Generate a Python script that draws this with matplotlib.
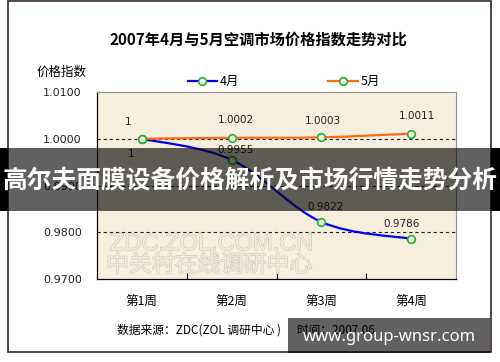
import matplotlib
matplotlib.use("Agg")
import matplotlib.pyplot as plt
import numpy as np
from matplotlib.path import Path
from matplotlib.patches import PathPatch, Rectangle
from matplotlib.lines import Line2D
import matplotlib.patheffects as pe

plt.rcParams['font.family'] = ['Noto Sans CJK SC', 'DejaVu Sans']

categories = ['第1周', '第2周', '第3周', '第4周']
april = [1.0, 0.9955, 0.9822, 0.9786]
may = [1.0, 1.0002, 1.0003, 1.0011]
april_labels = ['1', '0.9955', '0.9822', '0.9786']
may_labels = ['1', '1.0002', '1.0003', '1.0011']
yticks = [0.97, 0.98, 0.99, 1.00, 1.01]
ytick_labels = ['0.9700', '0.9800', '0.9900', '1.0000', '1.0100']
series_names = ['4月', '5月']
title = '2007年4月与5月空调市场价格指数走势对比'
ylabel = '价格指数'
source = '数据来源：ZDC(ZOL 调研中心 )      时间：2007.06'
banner = '高尔夫面膜设备价格解析及市场行情走势分析'
site = 'www.group-wnsr.com'

W, H = 500, 362
fig = plt.figure(figsize=(W / 100, H / 100), dpi=100)
fig.patch.set_facecolor('white')

def fx(px):
    return px / W

def fy(py):
    return 1 - py / H

# outer border
fig.add_artist(Rectangle((fx(8), fy(352)), fx(491) - fx(8), fy(1) - fy(352),
                         transform=fig.transFigure, fill=False,
                         edgecolor='#3b2626', linewidth=1.2, zorder=1))

ax = fig.add_axes([fx(97), fy(279), fx(456) - fx(97), fy(92) - fy(279)])
ax.set_facecolor('#f7efdd')
ax.set_xlim(-0.5, 3.5)
ax.set_ylim(0.97, 1.01)

for s in ['top', 'right']:
    ax.spines[s].set_color('#909090')
    ax.spines[s].set_linewidth(0.8)
for s in ['left', 'bottom']:
    ax.spines[s].set_color('#000000')
    ax.spines[s].set_linewidth(0.9)

ax.set_yticks(yticks)
ax.set_yticklabels(ytick_labels, fontsize=8, family='DejaVu Sans', color='#222222')
ax.tick_params(axis='y', length=0, pad=11)
x = np.arange(len(categories))
ax.set_xticks(x)
ax.set_xticklabels(categories, fontsize=9)
ax.tick_params(axis='x', which='major', length=0, pad=12)
ax.set_xticks([0.5, 1.5, 2.5], minor=True)
ax.tick_params(axis='x', which='minor', direction='in', length=4, width=0.8, color='#000000')

for yv in yticks[1:-1]:
    ax.axhline(yv, color='#222222', linestyle=(0, (3, 2.5)), linewidth=0.8, zorder=1)

# watermark
wm_fx = [pe.Stroke(linewidth=0.8, foreground='#cdc5b5'), pe.Normal()]
fig.text(fx(110), fy(244), 'ZDC.ZOL.COM.CN', fontsize=17, family='Liberation Sans',
         color='#f3ecdc', ha='left', va='center', path_effects=wm_fx, zorder=2)
fig.text(fx(106), fy(265), '中关村在线调研中心', fontsize=16.5, family='Noto Sans CJK SC',
         color='#f3ecdc', ha='left', va='center', path_effects=wm_fx, zorder=2)

def smooth_path(xs, ys):
    pts = np.column_stack([xs, ys]).astype(float)
    n = len(pts)
    verts = [pts[0]]
    codes = [Path.MOVETO]
    for i in range(n - 1):
        p0 = pts[i - 1] if i > 0 else pts[i]
        p1 = pts[i]
        p2 = pts[i + 1]
        p3 = pts[i + 2] if i + 2 < n else pts[i + 1]
        c1 = p1 + (p2 - p0) / 6.0
        c2 = p2 - (p3 - p1) / 6.0
        verts += [c1, c2, p2]
        codes += [Path.CURVE4] * 3
    return Path(verts, codes)

for vals, col in [(april, '#0000ee'), (may, '#ff6a10')]:
    ax.add_patch(PathPatch(smooth_path(x, vals), facecolor='none', edgecolor=col,
                           linewidth=1.6, zorder=3))
    ax.plot(x, vals, linestyle='none', marker='o', markersize=5.5,
            markerfacecolor='#eaffe6', markeredgecolor='#2fa82f', markeredgewidth=1.2, zorder=4)

may_off = [(-10, 12), (3, 13), (1, 12), (4, 13)]
apr_off = [(-8, -11), (3, 7), (3, 11), (-7, 11)]
for xi, v, lab, off in zip(x, may, may_labels, may_off):
    ax.annotate(lab, (xi, v), xytext=off, textcoords='offset points', ha='center',
                va='center', fontsize=7.5, family='DejaVu Sans', color='#222222', zorder=5)
for xi, v, lab, off in zip(x, april, april_labels, apr_off):
    ax.annotate(lab, (xi, v), xytext=off, textcoords='offset points', ha='center',
                va='center', fontsize=7.5, family='DejaVu Sans', color='#222222', zorder=5)

# title, y label, legend, source
fig.text(fx(258), fy(40), title, fontsize=11, fontweight='bold', ha='center', va='center')
fig.text(fx(62), fy(72), ylabel, fontsize=9, ha='center', va='center')
leg = [(188, 217, 202, 220, '#0000ee', series_names[0]),
       (328, 358, 343, 361, '#ff6a10', series_names[1])]
for x0, x1, xm, xt, col, name in leg:
    fig.add_artist(Line2D([fx(x0), fx(x1)], [fy(81), fy(81)], transform=fig.transFigure,
                          color=col, linewidth=1.6))
    fig.add_artist(Line2D([fx(xm)], [fy(81)], transform=fig.transFigure, marker='o',
                          markersize=5.5, markerfacecolor='#eaffe6', markeredgecolor='#2fa82f',
                          markeredgewidth=1.2, linestyle='none'))
    fig.text(fx(xt), fy(81), name, fontsize=9, ha='left', va='center')
fig.text(fx(117), fy(330), source, fontsize=8.5, ha='left', va='center')

# overlay banners
fig.add_artist(Rectangle((0, fy(211)), fx(8), fy(148) - fy(211), transform=fig.transFigure,
                         facecolor='black', edgecolor='none', zorder=10))
fig.add_artist(Rectangle((fx(491), fy(211)), 1 - fx(491), fy(148) - fy(211),
                         transform=fig.transFigure,
                         facecolor='black', edgecolor='none', zorder=10))
fig.add_artist(Rectangle((fx(8), fy(211)), fx(491) - fx(8), fy(148) - fy(211),
                         transform=fig.transFigure, facecolor='black', edgecolor='none',
                         alpha=0.62, zorder=11))
fig.text(0.5, fy(181), banner, fontsize=17.8, fontweight='bold', color='white',
         ha='center', va='center', zorder=12)
fig.add_artist(Rectangle((fx(288), fy(353)), fx(490) - fx(288), fy(318) - fy(353),
                         transform=fig.transFigure, facecolor='black', edgecolor='none',
                         alpha=0.62, zorder=10))
fig.text(fx(389), fy(337), site, fontsize=12, fontweight='bold', color='white',
         family='Noto Sans', ha='center', va='center', zorder=12)

fig.savefig('out.png', dpi=100)
